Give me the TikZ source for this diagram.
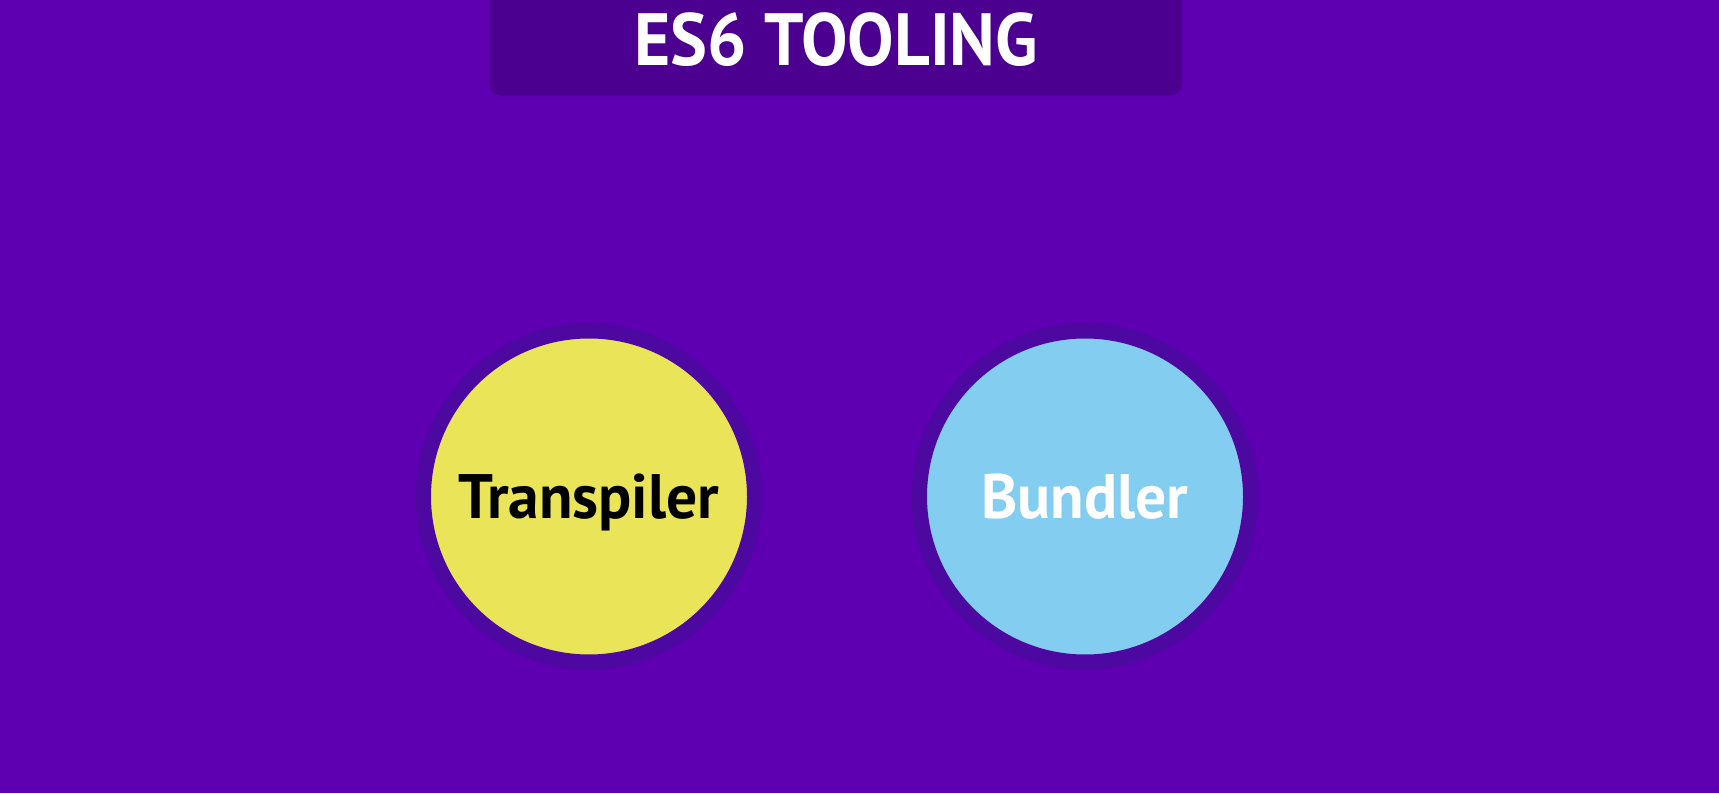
\documentclass[tikz,border=0pt]{standalone}
\usepackage{fontspec}
\usepackage{xcolor}
\usetikzlibrary{positioning}
\newfontfamily\headfont[FakeStretch=0.94]{PT Sans}
\newfontfamily\toolfont[FakeStretch=0.98]{PT Sans}
\definecolor{bgpurple}{RGB}{94,0,178}
\definecolor{bandpurple}{RGB}{75,0,144}
\definecolor{ringpurple}{RGB}{76,8,160}
\definecolor{toolyellow}{RGB}{234,229,88}
\definecolor{toolblue}{RGB}{130,205,240}

\begin{document}
\begin{tikzpicture}[
  x=0.5pt, y=0.5pt,
  node distance=82.5pt,
  titlebox/.style={rectangle, fill=bandpurple, rounded corners=6pt, minimum width=346pt, text height=26pt, text depth=0pt, inner ysep=15pt, text=white, font=\headfont\bfseries\fontsize{37}{40}\selectfont},
  tool/.style={circle, draw=ringpurple, line width=7.5pt, minimum size=165.5pt, inner sep=0pt, outer sep=0pt, text height=22pt, text depth=0pt, font=\toolfont\bfseries\fontsize{31.4}{34}\selectfont}
]
  \fill[bgpurple] (0,0) rectangle (1719,793);
  \useasboundingbox (0,0) rectangle (1719,793);

  \node[titlebox, anchor=south] (title) at (836,697) {ES6 TOOLING};
  \node[tool, fill=toolyellow, text=black] (transpiler) at (589,296.5) {Transpiler};
  \node[tool, fill=toolblue, text=white, right=of transpiler] (bundler) {Bundler};
\end{tikzpicture}
\end{document}
